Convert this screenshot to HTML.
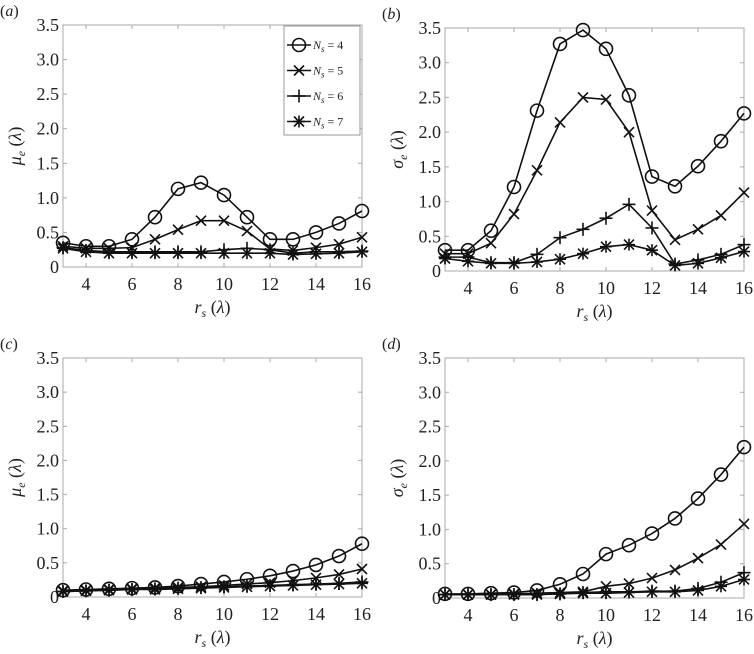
<!DOCTYPE html>
<html><head><meta charset="utf-8"><style>
body{margin:0;background:#fff;}
svg{display:block;}
text{font-family:"Liberation Serif","Times New Roman",serif;}
</style></head><body>
<svg id="fig" width="754" height="654" viewBox="0 0 754 654" font-family="Liberation Serif, serif"></svg>
<script>
const xCats=[3,4,5,6,7,8,9,10,11,12,13,14,15,16];
const xTicks=[4,6,8,10,12,14,16];
const yTicks=[0,0.5,1.0,1.5,2.0,2.5,3.0,3.5];
const yTickLabels=["0","0.5","1.0","1.5","2.0","2.5","3.0","3.5"];
const a_N4=[0.35,0.3,0.3,0.4,0.72,1.13,1.22,1.04,0.72,0.4,0.4,0.5,0.63,0.81];
const a_N5=[0.3,0.27,0.27,0.28,0.4,0.54,0.67,0.67,0.52,0.26,0.24,0.28,0.33,0.43];
const a_N6=[0.28,0.24,0.22,0.22,0.22,0.22,0.22,0.25,0.27,0.25,0.2,0.22,0.22,0.23];
const a_N7=[0.27,0.22,0.2,0.2,0.2,0.2,0.2,0.2,0.2,0.2,0.18,0.19,0.2,0.22];
const b_N4=[0.3,0.3,0.58,1.21,2.31,3.27,3.47,3.2,2.53,1.36,1.22,1.51,1.87,2.27];
const b_N5=[0.25,0.25,0.4,0.82,1.45,2.14,2.5,2.47,2.0,0.87,0.45,0.6,0.8,1.13];
const b_N6=[0.2,0.2,0.12,0.12,0.24,0.48,0.6,0.76,0.96,0.62,0.1,0.16,0.24,0.38];
const b_N7=[0.18,0.14,0.11,0.11,0.13,0.17,0.25,0.35,0.38,0.3,0.08,0.11,0.19,0.28];
const c_N4=[0.1,0.11,0.12,0.13,0.14,0.16,0.19,0.22,0.26,0.31,0.38,0.47,0.6,0.78];
const c_N5=[0.09,0.1,0.11,0.12,0.13,0.14,0.15,0.17,0.19,0.21,0.24,0.28,0.33,0.41];
const c_N6=[0.08,0.09,0.1,0.11,0.12,0.13,0.14,0.15,0.16,0.17,0.18,0.19,0.2,0.22];
const c_N7=[0.08,0.09,0.1,0.11,0.11,0.12,0.13,0.14,0.15,0.16,0.17,0.18,0.19,0.2];
const d_N4=[0.06,0.06,0.07,0.08,0.11,0.2,0.35,0.64,0.77,0.94,1.16,1.45,1.8,2.2];
const d_N5=[0.05,0.05,0.05,0.06,0.07,0.08,0.09,0.17,0.21,0.29,0.41,0.58,0.78,1.08];
const d_N6=[0.05,0.05,0.05,0.05,0.05,0.06,0.08,0.09,0.09,0.1,0.1,0.14,0.23,0.37];
const d_N7=[0.05,0.05,0.05,0.05,0.05,0.06,0.07,0.07,0.08,0.09,0.09,0.11,0.17,0.27];
const seriesNames=["N4","N5","N6","N7"];
const legendNums=["4","5","6","7"];

const NS="http://www.w3.org/2000/svg";
const svg=document.getElementById('fig');
const FF='"Liberation Serif", serif';
function mk(tag,attrs,parent){const e=document.createElementNS(NS,tag);for(const k in attrs)e.setAttribute(k,attrs[k]);if(tag==='text')e.style.fontFamily=FF;(parent||svg).appendChild(e);return e;}

function marker(g,type,x,y){
  const st={stroke:'#111','stroke-width':1.6,fill:'none'};
  let m;
  if(type===0){m=mk('circle',Object.assign({cx:x,cy:y,r:6.5},st),g);}
  else{
    m=mk('g',{},g);
    const s=5;
    if(type===1||type===3){mk('line',Object.assign({x1:x-s,y1:y-s,x2:x+s,y2:y+s},st),m);mk('line',Object.assign({x1:x-s,y1:y+s,x2:x+s,y2:y-s},st),m);}
    if(type===2||type===3){const t=type===2?6.5:6;mk('line',Object.assign({x1:x-t,y1:y,x2:x+t,y2:y},st),m);mk('line',Object.assign({x1:x,y1:y-t,x2:x,y2:y+t},st),m);}
  }
  
  
}

function panel(id,L,R,T,B,label,ylab,data,legend){
  const g=mk('g',{});
  
  
  const xs=v=>L+(v-3)/13*(R-L);
  const ys=v=>B-v/3.5*(B-T);
  const fr=mk('rect',{x:L,y:T,width:R-L,height:B-T,fill:'none',stroke:'#aaa','stroke-width':1},g);
  
  xTicks.forEach(t=>{
    const x=xs(t);
    mk('line',{x1:x,y1:B,x2:x,y2:B-4,stroke:'#aaa'},g);mk('line',{x1:x,y1:T,x2:x,y2:T+4,stroke:'#aaa'},g);
    const tx=mk('text',{x:x,y:B+23,'font-size':18,'text-anchor':'middle',fill:'#222'},g);tx.textContent=t;
    
  });
  yTicks.forEach((t,i)=>{
    const y=ys(t);
    mk('line',{x1:L,y1:y,x2:L+4,y2:y,stroke:'#aaa'},g);mk('line',{x1:R,y1:y,x2:R-4,y2:y,stroke:'#aaa'},g);
    const tx=mk('text',{x:L-4,y:y+6,'font-size':18,'text-anchor':'end',fill:'#222'},g);tx.textContent=yTickLabels[i];
    
  });
  const xt=mk('text',{x:(L+R)/2,y:B+46,'font-size':18,'text-anchor':'middle','font-style':'italic',fill:'#222'},g);
  xt.innerHTML='r<tspan font-size="12" dy="4">s</tspan><tspan dy="-4" font-style="normal"> (</tspan>λ<tspan font-style="normal">)</tspan>';
  
  const yt=mk('text',{transform:`translate(${L-42},${(T+B)/2}) rotate(-90)`,'font-size':18,'text-anchor':'middle','font-style':'italic',fill:'#222'},g);
  yt.innerHTML=ylab+'<tspan font-size="12" dy="4">e</tspan><tspan dy="-4" font-style="normal"> (</tspan>λ<tspan font-style="normal">)</tspan>';
  
  const pl=mk('text',{x:L-63,y:T-9,'font-size':16,'font-style':'italic',fill:'#222'},g);
  pl.innerHTML='<tspan font-style="normal">(</tspan>'+label+'<tspan font-style="normal">)</tspan>';
  
  data.forEach((arr,si)=>{
    const sg=mk('g',{},g);
    
    
    const pts=arr.map((v,i)=>xs(xCats[i])+','+ys(v)).join(' ');
    mk('polyline',{points:pts,fill:'none',stroke:'#111','stroke-width':1.6},sg);
    arr.forEach((v,i)=>marker(sg,si,xs(xCats[i]),ys(v)));
  });
  if(legend){
    const lg=mk('g',{},g);
    
    mk('rect',{x:284,y:T+1,width:76,height:109,fill:'#fff',stroke:'#999'},lg);
    legendNums.forEach((n,i)=>{
      const y=T+20+i*25.5;
      const e=mk('g',{},lg);
      
      mk('line',{x1:287,y1:y,x2:311,y2:y,stroke:'#111','stroke-width':1.6},e);
      marker(e,i,299,y);
      const t=mk('text',{x:313,y:y+4,'font-size':12,'font-style':'italic',fill:'#222'},e);
      t.innerHTML='N<tspan font-size="9" dy="3">s</tspan><tspan dy="-3" font-style="normal"> = '+n+'</tspan>';
    });
  }
}
panel('a',63,362,25,267,'a','μ',[a_N4,a_N5,a_N6,a_N7],true);
panel('b',445,744,28,271,'b','σ',[b_N4,b_N5,b_N6,b_N7],false);
panel('c',63,362,358,597,'c','μ',[c_N4,c_N5,c_N6,c_N7],false);
panel('d',445,744,358,598,'d','σ',[d_N4,d_N5,d_N6,d_N7],false);
</script>
</body></html>
